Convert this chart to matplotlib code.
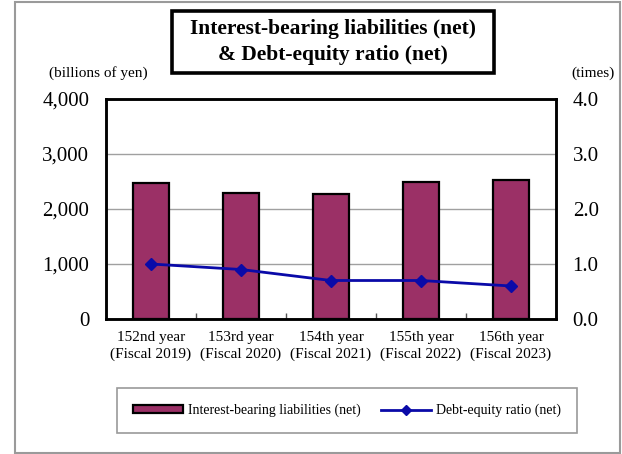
import matplotlib.pyplot as plt
import numpy as np
from matplotlib.patches import Rectangle
from matplotlib.ticker import FuncFormatter, FixedLocator

plt.rcParams['font.family'] = ['Liberation Serif', 'DejaVu Serif']

# fiscal years and values
years = ['152nd year\n(Fiscal 2019)', '153rd year\n(Fiscal 2020)', '154th year\n(Fiscal 2021)',
         '155th year\n(Fiscal 2022)', '156th year\n(Fiscal 2023)']
liabilities = [2470, 2290, 2275, 2490, 2520]   # billions of yen
de_ratio = [1.0, 0.9, 0.7, 0.7, 0.6]           # times

bar_color = '#9B3066'
line_color = '#0A0AA8'

fig = plt.figure(figsize=(6.22, 4.54), dpi=100)

# outer frame
fig.patches.append(Rectangle((15 / 622, 1 / 454), 605 / 622, 451 / 454, transform=fig.transFigure,
                             fill=False, edgecolor='#9a9a9a', linewidth=1.5))

ax = fig.add_axes([106 / 622, 1 - 319 / 454, 450 / 622, 220 / 454])
x = np.arange(len(years))
ax.bar(x, liabilities, width=0.41, color=bar_color, edgecolor='black', linewidth=1.6, zorder=2,
       label='Interest-bearing liabilities (net)')
ax.set_xlim(-0.5, len(years) - 0.5)
ax.set_ylim(0, 4000)
ax.set_yticks([0, 1000, 2000, 3000, 4000])
ax.yaxis.set_major_formatter(FuncFormatter(lambda v, p: f'{int(v):,}'))
ax.yaxis.grid(True, color='#a0a0a0', linewidth=1.0)
ax.set_axisbelow(True)
ax.tick_params(axis='y', length=0, pad=12, labelsize=15)
ax.set_xticks(x)
ax.set_xticklabels(years, fontsize=11, linespacing=1.3)
ax.tick_params(axis='x', length=0, pad=9)
ax.xaxis.set_minor_locator(FixedLocator(np.arange(0.5, len(years) - 1, 1.0)))
ax.tick_params(axis='x', which='minor', direction='in', length=4, width=1, color='#555555')
for s in ax.spines.values():
    s.set_linewidth(1.8)

ax2 = ax.twinx()
ax2.plot(x, de_ratio, color=line_color, linewidth=2, marker='D', markersize=6.5, zorder=3,
         label='Debt-equity ratio (net)')
ax2.set_ylim(0, 4)
ax2.set_yticks([0, 1, 2, 3, 4])
ax2.yaxis.set_major_formatter(FuncFormatter(lambda v, p: f'{v:.1f}'))
ax2.tick_params(axis='y', length=0, pad=12, labelsize=15)
for s in ax2.spines.values():
    s.set_linewidth(1.8)

# unit labels
fig.text(98 / 622, 1 - 73 / 454, '(billions of yen)', ha='center', va='center', fontsize=11)
fig.text(593 / 622, 1 - 73 / 454, '(times)', ha='center', va='center', fontsize=11)

# title box
fig.patches.append(Rectangle((172 / 622, 1 - 73 / 454), 322 / 622, 62 / 454, transform=fig.transFigure,
                             fill=False, edgecolor='black', linewidth=2.6))
fig.text(333 / 622, 1 - 42 / 454, 'Interest-bearing liabilities (net)\n& Debt-equity ratio (net)',
         ha='center', va='center', fontsize=15.5, fontweight='bold', linespacing=1.45)

handles = ax.get_legend_handles_labels()[0] + ax2.get_legend_handles_labels()[0]
labels = ax.get_legend_handles_labels()[1] + ax2.get_legend_handles_labels()[1]
leg = fig.legend(handles, labels, loc='center', bbox_to_anchor=(347 / 622, 1 - 410.5 / 454),
                 ncol=2, fontsize=10, frameon=True, fancybox=False, edgecolor='#808080',
                 handlelength=3.6, handleheight=0.55, handletextpad=0.4, columnspacing=1.45,
                 borderpad=1.15, borderaxespad=0)
leg.get_frame().set_linewidth(1.2)
for h in leg.legend_handles:
    if hasattr(h, 'set_markersize'):
        h.set_markersize(5)

fig.savefig('out.png', dpi=100)
